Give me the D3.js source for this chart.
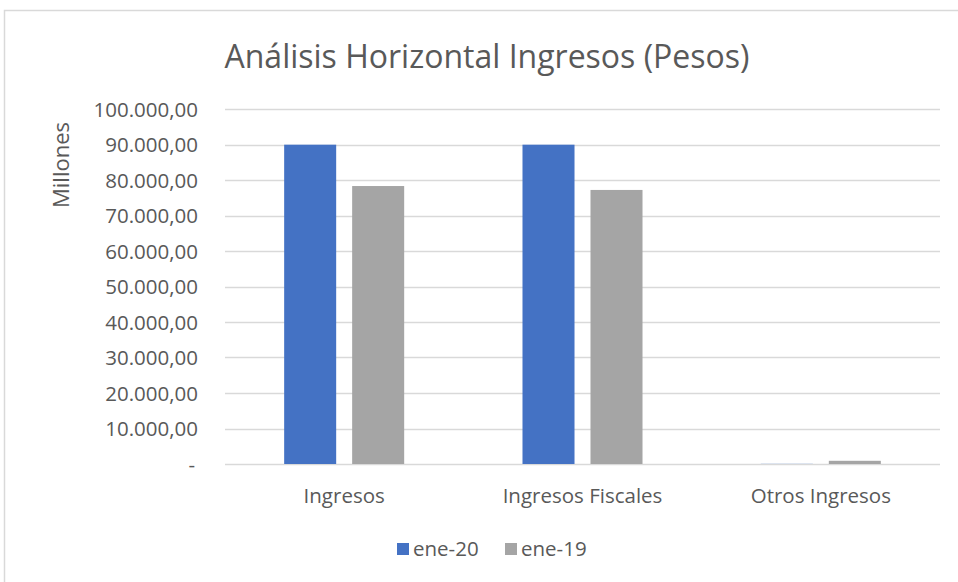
<!DOCTYPE html>
<html lang="es">
<head>
<meta charset="UTF-8">
<title>Análisis Horizontal Ingresos</title>
<script src="https://cdnjs.cloudflare.com/ajax/libs/d3/7.8.5/d3.min.js"></script>
<style>
  body { margin: 0; background: #fff; }
  text { font-family: "Open Sans", "Noto Sans", sans-serif; fill: #595959; }
</style>
</head>
<body>
<div id="chart"></div>
<script>
// data
var categories = ["Ingresos", "Ingresos Fiscales", "Otros Ingresos"];
var seriesNames = ["ene-20", "ene-19"];
var ene20 = [89950, 89950, 40];
var ene19 = [78300, 77200, 900];
var yTicks = [0, 10000, 20000, 30000, 40000, 50000, 60000, 70000, 80000, 90000, 100000];
var colors = ["#4472c4", "#a5a5a5"];

var W = 958, H = 582;
var plot = { left: 225, right: 940, top: 109, bottom: 464 };

var svg = d3.select("#chart").append("svg")
    .attr("width", W)
    .attr("height", H);

// chart frame (only top and left edges are visible in the original)
svg.append("path")
    .attr("d", "M4.5,582 V10.5 H958")
    .attr("fill", "none")
    .attr("stroke", "#d9d9d9")
    .attr("stroke-width", 1.5);

var x0 = d3.scaleBand()
    .domain(categories)
    .range([plot.left, plot.right])
    .paddingInner(0)
    .paddingOuter(0);

var x1 = d3.scaleBand()
    .domain(seriesNames)
    .range([0, x0.bandwidth()])
    .paddingInner(0.235)
    .paddingOuter(0.87);

var y = d3.scaleLinear()
    .domain([0, 100000])
    .range([plot.bottom, plot.top]);

var fmt = function(v) {
    if (v === 0) return "-";
    var s = d3.format(",.2f")(v);
    return s.replace(/,/g, "#").replace(/\./g, ",").replace(/#/g, ".");
};

// grid lines
svg.append("g").selectAll("line")
    .data(yTicks)
    .enter().append("line")
    .attr("x1", plot.left)
    .attr("x2", plot.right)
    .attr("y1", function(d) { return Math.round(y(d)) + 0.5; })
    .attr("y2", function(d) { return Math.round(y(d)) + 0.5; })
    .attr("stroke", "#d9d9d9")
    .attr("stroke-width", 1.3);

// y axis labels
var yAxis = d3.axisLeft(y).tickValues(yTicks).tickFormat(fmt).tickSize(0).tickPadding(0);
var gy = svg.append("g")
    .attr("transform", "translate(198,0)")
    .call(yAxis);
gy.select(".domain").remove();
gy.selectAll("text")
    .style("font-size", "20.5px")
    .attr("fill", "#595959")
    .attr("dy", "0.35em");
gy.selectAll("text").filter(function(d) { return d === 0; }).attr("x", -3);

// bars
var rows = categories.map(function(c, i) {
    return { cat: c, vals: [ene20[i], ene19[i]] };
});

var groups = svg.append("g").selectAll("g")
    .data(rows)
    .enter().append("g")
    .attr("transform", function(d) { return "translate(" + x0(d.cat) + ",0)"; });

groups.selectAll("rect")
    .data(function(d) { return d.vals.map(function(v, j) { return { s: seriesNames[j], v: v, j: j }; }); })
    .enter().append("rect")
    .attr("x", function(d) { return x1(d.s); })
    .attr("y", function(d) { return y(d.v); })
    .attr("width", x1.bandwidth())
    .attr("height", function(d) { return y(0) - y(d.v); })
    .attr("fill", function(d) { return colors[d.j]; });

// x axis labels
var xAxis = d3.axisBottom(x0).tickSize(0).tickPadding(0);
var gx = svg.append("g")
    .attr("transform", "translate(0,503)")
    .call(xAxis);
gx.select(".domain").remove();
gx.selectAll("text")
    .style("font-size", "20.5px")
    .attr("fill", "#595959")
    .attr("dy", "0");

// title
svg.append("text")
    .attr("x", 487)
    .attr("y", 68)
    .attr("text-anchor", "middle")
    .style("font-size", "32px")
    .text("Análisis Horizontal Ingresos (Pesos)");

// y axis title
svg.append("text")
    .attr("transform", "translate(69,165) rotate(-90)")
    .attr("text-anchor", "middle")
    .style("font-size", "22px")
    .text("Millones");

// legend
var legendX = [397, 505];
var legend = svg.append("g").selectAll("g")
    .data(seriesNames)
    .enter().append("g")
    .attr("transform", function(d, i) { return "translate(" + legendX[i] + ",549)"; });
legend.append("rect")
    .attr("x", 0)
    .attr("y", -6)
    .attr("width", 12)
    .attr("height", 12)
    .attr("fill", function(d, i) { return colors[i]; });
legend.append("text")
    .attr("x", 16)
    .attr("y", 0)
    .attr("dy", "0.35em")
    .style("font-size", "20.5px")
    .text(function(d) { return d; });
</script>
</body>
</html>
